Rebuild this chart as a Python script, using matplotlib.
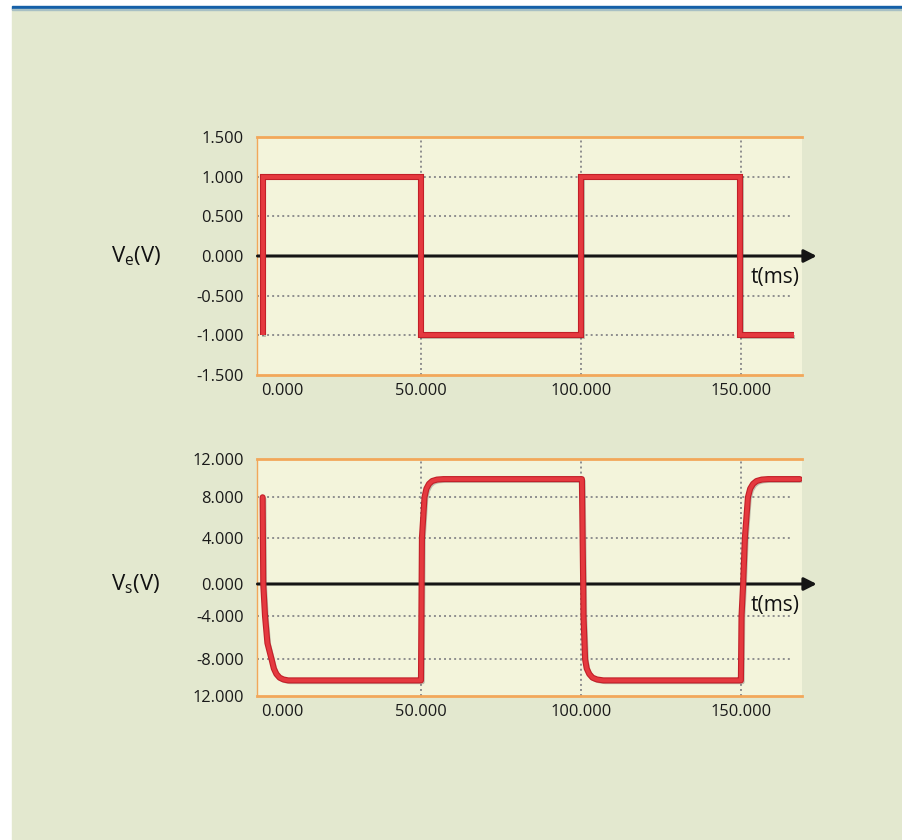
import numpy as np
import matplotlib.pyplot as plt
import matplotlib.patheffects as pe
from matplotlib.patches import Rectangle

plt.rcParams['font.family'] = ['Open Sans', 'DejaVu Sans']

# input voltage V_e (square wave)
t_in = [0.5, 0.5, 49.9, 49.9, 100.1, 100.1, 149.8, 149.8, 166.5]
v_in = [-1.0, 1.0, 1.0, -1.0, -1.0, 1.0, 1.0, -1.0, -1.0]

# output voltage V_s
t_out = [0.5, 0.7, 1.25, 2.0, 3.3, 4.0, 4.8, 5.8, 7.0, 8.5, 49.9,
         50.0, 50.2, 50.3, 51.1, 51.7, 52.5, 53.5, 55.0, 57.0, 100.1,
         100.3, 100.7, 100.8, 101.3, 101.8, 102.6, 103.6, 105.0, 107.0, 149.9,
         150.0, 150.2, 150.7, 151.25, 152.2, 152.9, 153.8, 154.9, 156.5, 158.5, 168.4]
v_out = [8.0, 0.0, -4.0, -6.5, -8.0, -9.0, -9.6, -10.0, -10.2, -10.3, -10.3,
         -10.3, 0.0, 4.0, 8.0, 8.9, 9.4, 9.7, 9.85, 9.9, 9.9,
         9.9, 0.0, -4.0, -8.0, -9.0, -9.6, -10.0, -10.2, -10.3, -10.3,
         -10.3, -4.0, 0.0, 4.0, 8.0, 8.9, 9.4, 9.7, 9.85, 9.9, 9.9]

t_ticks = [0, 50, 100, 150]
t_labels = ['0.000', '50.000', '100.000', '150.000']

ve_ticks = [-1.5, -1.0, -0.5, 0.0, 0.5, 1.0, 1.5]
ve_labels = ['-1.500', '-1.000', '-0.500', '0.000', '0.500', '1.000', '1.500']

vs_ticks = [-12, -8, -4, 0, 4, 8, 12]
vs_labels = ['12.000', '-8.000', '-4.000', '0.000', '4.000', '8.000', '12.000']

# the lower axis is not evenly spaced in the picture (pixel heights of each tick)
vs_pos = [0, 36.7, 80, 112, 158.3, 198.7, 237]

W, H = 903, 840
PANEL = '#E3E8CF'
PLOT_BG = '#F3F4DB'
ORANGE = '#F2A75A'
GRID = '#8E8E8E'
RED = '#E5393F'
FS = 11.8


def fwd(v):
	return np.interp(v, vs_ticks, vs_pos)


def inv(p):
	return np.interp(p, vs_pos, vs_ticks)


fig = plt.figure(figsize=(W / 100, H / 100), dpi=100, facecolor='white')
fig.patches.append(Rectangle((12 / W, 0), (W - 12) / W, (H - 10) / H,
                             transform=fig.transFigure, color=PANEL, zorder=-10))
fig.patches.append(Rectangle((12 / W, (H - 9) / H), (W - 12) / W, 3 / H,
                             transform=fig.transFigure, color='#1560A8', zorder=-9))
fig.patches.append(Rectangle((12 / W, (H - 10) / H), (W - 12) / W, 1 / H,
                             transform=fig.transFigure, color='#A8C0C4', zorder=-9))

left = 257.5 / W
width = (802 - 257.5) / W
ax1 = fig.add_axes([left, (H - 375) / H, width, (375 - 137) / H])
ax2 = fig.add_axes([left, (H - 696) / H, width, (696 - 459) / H])

red_fx = [pe.SimpleLineShadow(offset=(1.3, -1.3), shadow_color='#404040', alpha=0.3),
          pe.Stroke(linewidth=4.4, foreground='#C21F28'),
          pe.Normal()]


def setup(ax, yticks, ylabels, ylab):
	ax.set_facecolor(PLOT_BG)
	ax.set_xlim(-1.1, 169.1)
	for s in ['top', 'bottom']:
		ax.spines[s].set_color(ORANGE)
		ax.spines[s].set_linewidth(2)
	ax.spines['left'].set_color(ORANGE)
	ax.spines['left'].set_linewidth(1)
	ax.spines['right'].set_visible(False)

	ax.set_yticks(yticks)
	ax.set_yticklabels(ylabels, fontsize=FS, color='#1a1a1a')
	ax.set_xticks(t_ticks)
	ax.set_xticklabels(t_labels, fontsize=FS, color='#1a1a1a')
	ax.get_xticklabels()[0].set_ha('left')
	ax.tick_params(length=0)
	ax.tick_params(axis='y', pad=10)
	ax.tick_params(axis='x', pad=6)

	# dotted grid (not on the 0 line and not on the frame)
	for y in yticks[1:-1]:
		if y != 0:
			ax.axhline(y, xmax=0.982, color=GRID, lw=1.4, ls=(0, (1, 1.6)), zorder=1)
	for x in t_ticks[1:]:
		ax.axvline(x, color=GRID, lw=1.4, ls=(0, (1, 1.6)), zorder=1)

	# time axis with arrow
	tr = ax.get_yaxis_transform()
	ax.annotate('', xy=(1.027, 0), xycoords=tr, xytext=(0, 0), textcoords=tr,
	            arrowprops=dict(arrowstyle='-|>,head_length=0.75,head_width=0.38',
	                            color='#151515', lw=2.2, shrinkA=0, shrinkB=0),
	            annotation_clip=False, zorder=3)
	ax.annotate('t(ms)', xy=(1.0, 0), xycoords=tr, xytext=(-2, -21),
	            textcoords='offset pixels', ha='right', va='center',
	            fontsize=15, color='#111111', zorder=5)
	ax.text(-0.269, 0, ylab, transform=tr, ha='left', va='center',
	        fontsize=16, color='#111111')


setup(ax1, ve_ticks, ve_labels, r'$\mathregular{V_e}$(V)')
ax1.set_ylim(-1.5, 1.5)
ax1.plot(t_in, v_in, color=RED, lw=2.8, solid_joinstyle='miter',
         solid_capstyle='butt', path_effects=red_fx, zorder=4)

ax2.set_yscale('function', functions=(fwd, inv))
setup(ax2, vs_ticks, vs_labels, r'$\mathregular{V_s}$(V)')
ax2.set_ylim(-12, 12)
ax2.plot(t_out, v_out, color=RED, lw=2.8, solid_joinstyle='round',
         solid_capstyle='round', path_effects=red_fx, zorder=4)

fig.savefig('out.png', dpi=100, facecolor='white')
